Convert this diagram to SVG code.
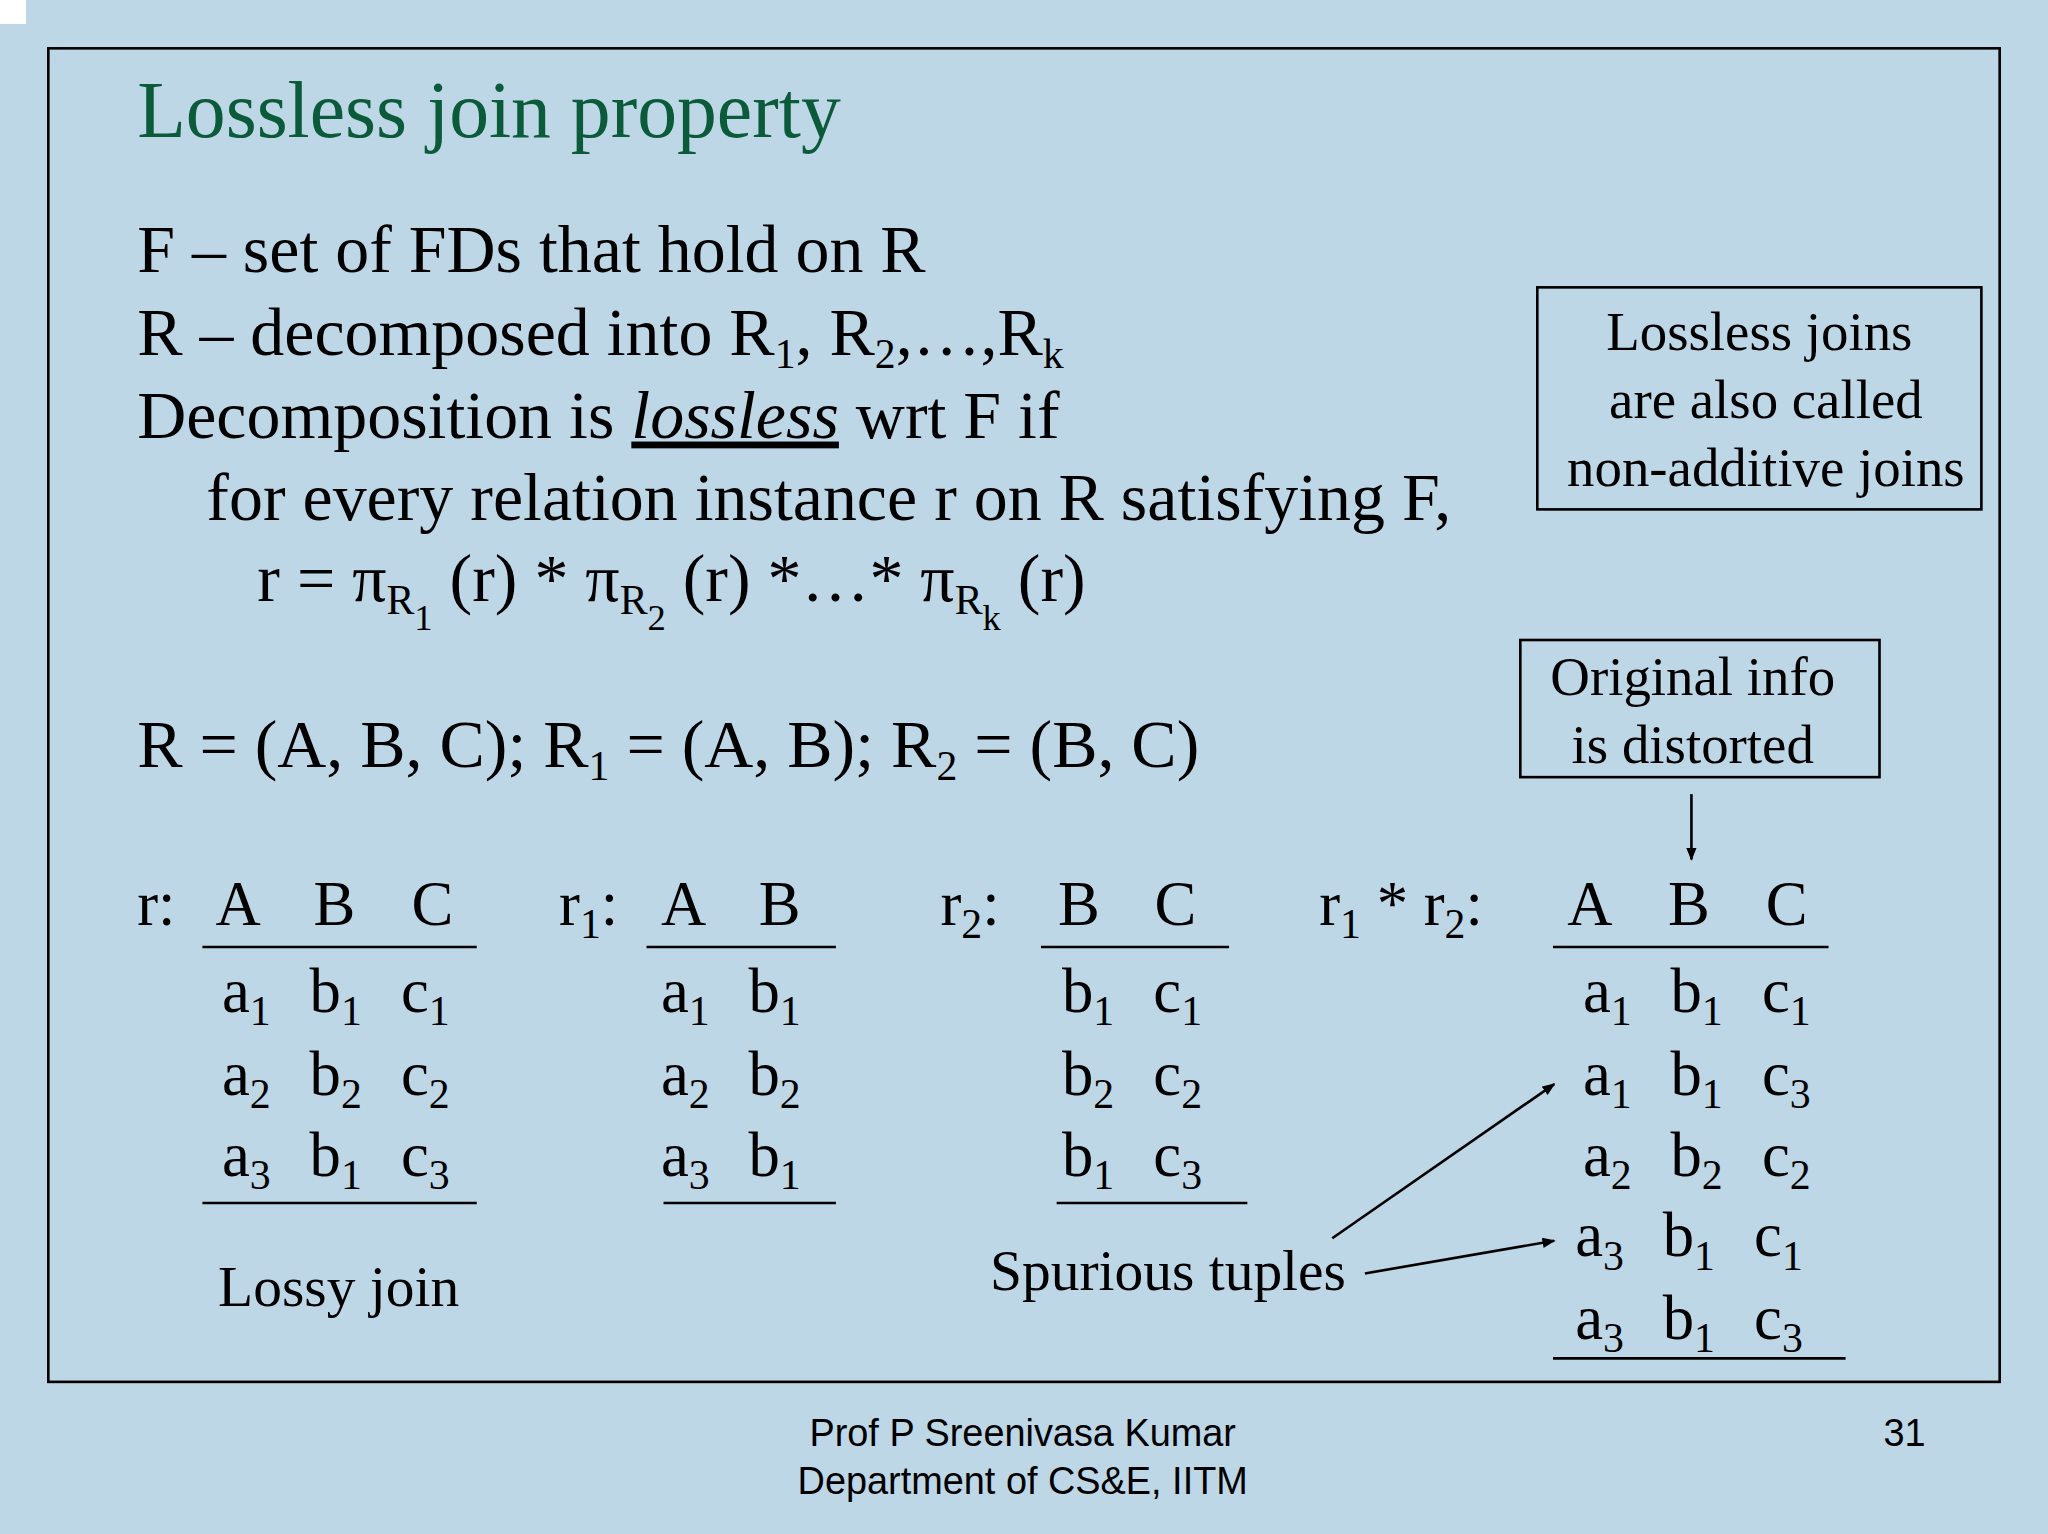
<svg xmlns="http://www.w3.org/2000/svg" width="2048" height="1534" viewBox="0 0 2048 1534">
<style>
.t{font-family:"Liberation Serif",serif;font-size:48px;fill:#000}
.p{font-size:52px}
.s{font-size:32px}
.b{font-family:"Liberation Serif",serif;font-size:42px;fill:#000;text-anchor:middle}
.f{font-family:"Liberation Sans",sans-serif;font-size:29px;fill:#000}
.l{stroke:#000;stroke-width:2;fill:none}
</style>
<defs><marker id="ah" markerWidth="10" markerHeight="8" refX="9" refY="4" orient="auto" markerUnits="userSpaceOnUse"><path d="M0,0 L10,4 L0,8 z" fill="#000"/></marker></defs>
<rect width="2048" height="1534" fill="#BED7E7"/>
<rect width="26" height="24" fill="#fff"/>
<g transform="scale(1.30612)">
<rect x="37" y="37" width="1494" height="1021" class="l"/>
<text x="105" y="105" style="font-family:'Liberation Serif',serif;font-size:61px;fill:#0B5B3B">Lossless join property</text>
<g id="body">
<text class="t p" x="105" y="208">F – set of FDs that hold on R</text>
<text class="t p" x="105" y="272">R – decomposed into R<tspan class="s" dy="10">1</tspan><tspan dy="-10">, R</tspan><tspan class="s" dy="10">2</tspan><tspan dy="-10">,…,R</tspan><tspan class="s" dy="10">k</tspan></text>
<text class="t p" x="105" y="335">Decomposition is <tspan font-style="italic" text-decoration="underline">lossless</tspan> wrt F if</text>
<text class="t p" x="158" y="398">for every relation instance r on R satisfying F,</text>
<text class="t p" x="197" y="460">r = π<tspan class="s" dy="10">R</tspan><tspan style="font-size:28px" dy="12">1</tspan><tspan dy="-22"> (r) * π</tspan><tspan class="s" dy="10">R</tspan><tspan style="font-size:28px" dy="12">2</tspan><tspan dy="-22"> (r) *…* π</tspan><tspan class="s" dy="10">R</tspan><tspan style="font-size:28px" dy="12">k</tspan><tspan dy="-22"> (r)</tspan></text>
<text class="t p" x="105" y="587">R = (A, B, C); R<tspan class="s" dy="10">1</tspan><tspan dy="-10"> = (A, B); R</tspan><tspan class="s" dy="10">2</tspan><tspan dy="-10"> = (B, C)</tspan></text>
</g>
<g id="box1"><rect x="1177" y="220" width="340" height="170" class="l"/>
<text class="b" x="1347" y="268">Lossless joins</text><text class="b" x="1352" y="320">are also called</text><text class="b" x="1352" y="372">non-additive joins</text></g>
<g id="box2"><rect x="1164" y="490" width="275" height="105" class="l"/>
<text class="b" x="1296" y="532">Original info</text><text class="b" x="1296" y="584">is distorted</text></g>
<g id="tables">
<text class="t" x="105" y="708">r:</text><text class="t" x="165" y="708">A</text><text class="t" x="240" y="708">B</text><text class="t" x="315" y="708">C</text>
<line x1="155" y1="725" x2="365" y2="725" class="l"/><line x1="155" y1="921" x2="365" y2="921" class="l"/>
<text class="t" x="170" y="775">a<tspan class="s" dy="10">1</tspan><tspan dy="-10" x="237">b</tspan><tspan class="s" dy="10">1</tspan><tspan dy="-10" x="307">c</tspan><tspan class="s" dy="10">1</tspan></text>
<text class="t" x="170" y="838">a<tspan class="s" dy="10">2</tspan><tspan dy="-10" x="237">b</tspan><tspan class="s" dy="10">2</tspan><tspan dy="-10" x="307">c</tspan><tspan class="s" dy="10">2</tspan></text>
<text class="t" x="170" y="900">a<tspan class="s" dy="10">3</tspan><tspan dy="-10" x="237">b</tspan><tspan class="s" dy="10">1</tspan><tspan dy="-10" x="307">c</tspan><tspan class="s" dy="10">3</tspan></text>
<text class="t" x="167" y="1000" style="font-size:44px">Lossy join</text>

<text class="t" x="428" y="708">r<tspan class="s" dy="10">1</tspan><tspan dy="-10">:</tspan></text><text class="t" x="506" y="708">A</text><text class="t" x="581" y="708">B</text>
<line x1="495" y1="725" x2="640" y2="725" class="l"/><line x1="508" y1="921" x2="640" y2="921" class="l"/>
<text class="t" x="506" y="775">a<tspan class="s" dy="10">1</tspan><tspan dy="-10" x="573">b</tspan><tspan class="s" dy="10">1</tspan></text>
<text class="t" x="506" y="838">a<tspan class="s" dy="10">2</tspan><tspan dy="-10" x="573">b</tspan><tspan class="s" dy="10">2</tspan></text>
<text class="t" x="506" y="900">a<tspan class="s" dy="10">3</tspan><tspan dy="-10" x="573">b</tspan><tspan class="s" dy="10">1</tspan></text>

<text class="t" x="720" y="708">r<tspan class="s" dy="10">2</tspan><tspan dy="-10">:</tspan></text><text class="t" x="810" y="708">B</text><text class="t" x="884" y="708">C</text>
<line x1="797" y1="725" x2="941" y2="725" class="l"/><line x1="809" y1="921" x2="955" y2="921" class="l"/>
<text class="t" x="813" y="775">b<tspan class="s" dy="10">1</tspan><tspan dy="-10" x="883">c</tspan><tspan class="s" dy="10">1</tspan></text>
<text class="t" x="813" y="838">b<tspan class="s" dy="10">2</tspan><tspan dy="-10" x="883">c</tspan><tspan class="s" dy="10">2</tspan></text>
<text class="t" x="813" y="900">b<tspan class="s" dy="10">1</tspan><tspan dy="-10" x="883">c</tspan><tspan class="s" dy="10">3</tspan></text>

<text class="t" x="1010" y="708">r<tspan class="s" dy="10">1</tspan><tspan dy="-10"> * r</tspan><tspan class="s" dy="10">2</tspan><tspan dy="-10">:</tspan></text>
<text class="t" x="1200" y="708">A</text><text class="t" x="1277" y="708">B</text><text class="t" x="1352" y="708">C</text>
<line x1="1189" y1="725" x2="1400" y2="725" class="l"/><line x1="1189" y1="1040" x2="1413" y2="1040" class="l"/>
<text class="t" x="1212" y="775">a<tspan class="s" dy="10">1</tspan><tspan dy="-10" x="1279">b</tspan><tspan class="s" dy="10">1</tspan><tspan dy="-10" x="1349">c</tspan><tspan class="s" dy="10">1</tspan></text>
<text class="t" x="1212" y="838">a<tspan class="s" dy="10">1</tspan><tspan dy="-10" x="1279">b</tspan><tspan class="s" dy="10">1</tspan><tspan dy="-10" x="1349">c</tspan><tspan class="s" dy="10">3</tspan></text>
<text class="t" x="1212" y="900">a<tspan class="s" dy="10">2</tspan><tspan dy="-10" x="1279">b</tspan><tspan class="s" dy="10">2</tspan><tspan dy="-10" x="1349">c</tspan><tspan class="s" dy="10">2</tspan></text>
<text class="t" x="1206" y="962">a<tspan class="s" dy="10">3</tspan><tspan dy="-10" x="1273">b</tspan><tspan class="s" dy="10">1</tspan><tspan dy="-10" x="1343">c</tspan><tspan class="s" dy="10">1</tspan></text>
<text class="t" x="1206" y="1025">a<tspan class="s" dy="10">3</tspan><tspan dy="-10" x="1273">b</tspan><tspan class="s" dy="10">1</tspan><tspan dy="-10" x="1343">c</tspan><tspan class="s" dy="10">3</tspan></text>
<text class="t" x="758" y="988" style="font-size:44px">Spurious tuples</text>
</g>
<g id="connectors">
<line x1="1295" y1="608" x2="1295" y2="658" class="l" marker-end="url(#ah)"/>
<line x1="1020" y1="948" x2="1190" y2="830" class="l" marker-end="url(#ah)"/>
<line x1="1045" y1="975" x2="1190" y2="950" class="l" marker-end="url(#ah)"/>
</g>
<g id="footer">
<text class="f" x="783" y="1107" text-anchor="middle">Prof P Sreenivasa Kumar</text>
<text class="f" x="783" y="1144" text-anchor="middle">Department of CS&amp;E, IITM</text>
<text class="f" x="1442" y="1107">31</text>
</g>
</g>
</svg>
